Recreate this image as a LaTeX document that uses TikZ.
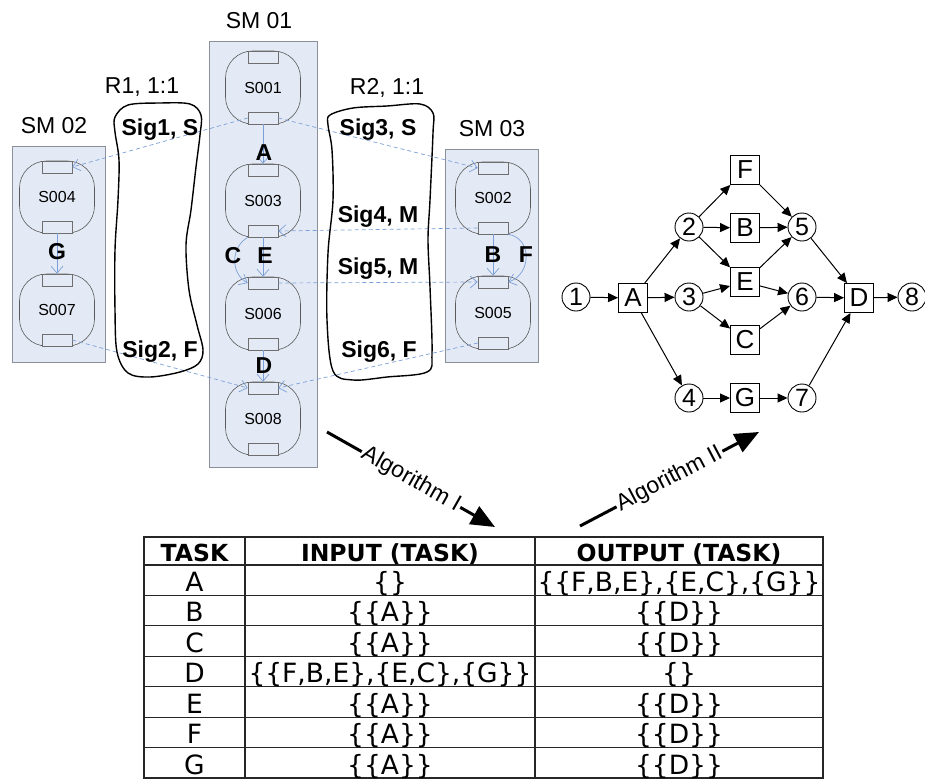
\documentclass[tikz,border=0pt]{standalone}
\usepackage{fontspec}
\setmainfont{Liberation Sans}
\newfontfamily\tablefont{DejaVu Sans}
\usetikzlibrary{arrows.meta}

\definecolor{smfill}{HTML}{E4EAF5}
\definecolor{smedge}{HTML}{8A8F99}
\definecolor{bodyedge}{HTML}{5A5A5A}
\definecolor{tabedge}{HTML}{6E6E6E}
\definecolor{flowblue}{HTML}{7B9FD8}

\newcommand\setfs[1]{\fontsize{#1}{#1}\selectfont}

% a service: rounded body with an input tab on top and an output tab below
\newcommand\svcnode[5]{%
  \node[sbody, minimum height=#4pt-#3pt+12pt] (#1) at (#2,{(#3+#4)/2}) {#5};
  \node[stab] (#1t) at (#2,#3) {};
  \node[stab] (#1b) at (#2,#4) {};
}

\begin{document}
\begin{tikzpicture}[x=1pt,y=-1pt,
  smbox/.style={draw=smedge, fill=smfill, line width=0.9pt, inner sep=0pt},
  sbody/.style={draw=bodyedge, line width=0.6pt, rounded corners=27pt,
    minimum width=75pt, inner sep=0pt, font=\setfs{16}},
  stab/.style={draw=tabedge, fill=smfill, line width=0.6pt,
    minimum width=30pt, minimum height=12pt, inner sep=0pt},
  flow/.style={draw=flowblue, line width=0.7pt,
    -{Straight Barb[length=7pt,width=12pt]}},
  sig/.style={flow, dash pattern=on 4pt off 3pt},
  title/.style={font=\setfs{23}, anchor=base, inner sep=0pt},
  sigl/.style={font=\bfseries\setfs{23}, anchor=base, inner sep=0pt},
  blob/.style={draw=black, line width=1.4pt},
  task/.style={draw, line width=0.9pt, minimum size=29pt, inner sep=0pt,
    font=\setfs{26}},
  state/.style={circle, draw, line width=0.9pt, minimum size=28pt,
    inner sep=0pt, font=\setfs{25}},
  garrow/.style={line width=1pt, -{Triangle[length=10pt,width=9pt]}},
  algo/.style={line width=3pt, -{Triangle[length=24pt,width=20pt]}},
  algol/.style={sloped, fill=white, inner sep=1.5pt, font=\setfs{23}},
  tline/.style={draw=black!85, line width=1.1pt},
  hdr/.style={font=\tablefont\bfseries\setfs{23.5}, anchor=base, inner sep=0pt},
  cell/.style={font=\tablefont\setfs{26.5}, anchor=base, inner sep=0pt},
]
\useasboundingbox (0,0) rectangle (925,779);

% ---------- service modules ----------
\node[smbox, minimum width=108pt, minimum height=426pt] (sm01) at (263,254) {};
\node[smbox, minimum width=93pt, minimum height=216pt] (sm02) at (58.5,254) {};
\node[smbox, minimum width=93pt, minimum height=213pt] (sm03) at (491.5,255.5) {};
\node[title] (sm01l) at (259,28) {SM 01};
\node[title] (sm02l) at (54,133) {SM 02};
\node[title] (sm03l) at (492,136) {SM 03};

\svcnode{s001}{263}{57}{118}{S001}
\svcnode{s003}{263}{170}{231}{S003}
\svcnode{s006}{263}{283}{344}{S006}
\svcnode{s008}{263}{388}{449}{S008}
\svcnode{s004}{57}{167}{227}{S004}
\svcnode{s007}{57}{280}{340}{S007}
\svcnode{s002}{493}{168}{228}{S002}
\svcnode{s005}{493}{282}{343}{S005}

% flows inside a module
\draw[flow] (s001b.south) -- (s003t.north);
\draw[flow] (s003b.south) -- (s006t.north);
\draw[flow] (s003b.south west) .. controls (230,248) and (231,274) .. (s006t.west);
\draw[flow] (s006b.south) -- (s008t.north);
\draw[flow] (s004b.south) -- (s007t.north);
\draw[flow] (s002b.south) -- (s005t.north);
\draw[flow] (s002b.south east) .. controls (532,238) and (532,274) .. (s005t.east);

\node[sigl] (la) at (264,160) {A};
\node[sigl] (lc) at (233,263) {C};
\node[sigl] (le) at (265,263) {E};
\node[sigl] (ld) at (264,373) {D};
\node[sigl] (lg) at (57,259) {G};
\node[sigl] (lb) at (493,262) {B};
\node[sigl] (lf) at (526,262) {F};

% signals between modules
\draw[sig] (s001b.west) -- (s004t.east);
\draw[sig] (s001b.east) -- (s002t.west);
\draw[sig] (s002b.west) -- (s003b.east);
\draw[sig] (s006t.east) -- (s005t.west);
\draw[sig] (s007b.east) -- (s008t.west);
\draw[sig] (s005b.west) -- (s008t.east);

% relation outlines
\draw[blob] plot[smooth cycle, tension=0.55] coordinates {
  (115,117) (128,105) (160,103) (190,104) (201,115) (200,135) (196,167)
  (191,210) (186,245) (189,290) (197,325) (203,350) (198,364) (180,372)
  (150,377) (128,373) (117,352) (115,310) (115,250) (118,200) (119,160)
  (115,132)};
\draw[blob] plot[smooth cycle, tension=0.55] coordinates {
  (330,115) (353,108) (387,106) (420,104) (433,113) (433,133) (430,200)
  (428,240) (430,287) (432,353) (427,372) (387,377) (353,380) (333,371)
  (327,320) (328,253) (333,200) (332,150) (328,125)};

\node[title] (r1l) at (142,93) {R1, 1:1};
\node[title] (r2l) at (387,94) {R2, 1:1};
\node[sigl] (sig1) at (160,135) {Sig1, S};
\node[sigl] (sig2) at (160,357) {Sig2, F};
\node[sigl] (sig3) at (378,135) {Sig3, S};
\node[sigl] (sig4) at (378,222) {Sig4, M};
\node[sigl] (sig5) at (378,274) {Sig5, M};
\node[sigl] (sig6) at (379,357) {Sig6, F};

% ---------- task graph ----------
\node[state] (n1) at (576,297) {1};
\node[task]  (tA) at (633,298) {A};
\node[state] (n2) at (689,227) {2};
\node[state] (n3) at (689,297) {3};
\node[state] (n4) at (689,398) {4};
\node[task]  (tF) at (745,170) {F};
\node[task]  (tB) at (745,228) {B};
\node[task]  (tE) at (745,282) {E};
\node[task]  (tC) at (745,340) {C};
\node[task]  (tG) at (745,398) {G};
\node[state] (n5) at (802,227) {5};
\node[state] (n6) at (802,297) {6};
\node[state] (n7) at (802,398) {7};
\node[task]  (tD) at (859,298) {D};
\node[state] (n8) at (912,297) {8};

\foreach \a/\b in {n1/tA, tA/n2, tA/n3, tA/n4, n2/tF, n2/tB, n2/tE, n3/tE,
  n3/tC, n4/tG, tF/n5, tB/n5, tE/n5, tE/n6, tC/n6, tG/n7, n5/tD, n6/tD,
  n7/tD, tD/n8}
  \draw[garrow] (\a) -- (\b);

% ---------- algorithm arrows ----------
\coordinate (alg1s) at (327,432);
\coordinate (alg1e) at (495,527);
\draw[algo] (alg1s) -- node[algol] (alg1l) {Algorithm I} (alg1e);
\coordinate (alg2s) at (580,526);
\coordinate (alg2e) at (759,432);
\draw[algo] (alg2s) -- node[algol] (alg2l) {Algorithm II} (alg2e);

% ---------- task table ----------
\draw[tline] (144,537) rectangle (823,778);
\draw[tline] (245,537) -- (245,778);
\draw[tline] (535,537) -- (535,778);
\draw[tline] (144,565) -- (823,565);
\foreach \k in {1,...,6}
  \draw[tline] (144,{565+\k*30.43}) -- (823,{565+\k*30.43});

\node[hdr] (h1) at (194.5,561) {TASK};
\node[hdr] (h2) at (390,561) {INPUT (TASK)};
\node[hdr] (h3) at (679,561) {OUTPUT (TASK)};

\node[cell] (a1) at (194.5,591.4) {A};
\node[cell] (a2) at (390,591.4) {\{\}};
\node[cell] (a3) at (679,591.4) {\{\{F,B,E\},\{E,C\},\{G\}\}};
\node[cell] (b1) at (194.5,621.9) {B};
\node[cell] (b2) at (390,621.9) {\{\{A\}\}};
\node[cell] (b3) at (679,621.9) {\{\{D\}\}};
\node[cell] (c1) at (194.5,652.3) {C};
\node[cell] (c2) at (390,652.3) {\{\{A\}\}};
\node[cell] (c3) at (679,652.3) {\{\{D\}\}};
\node[cell] (d1) at (194.5,682.7) {D};
\node[cell] (d2) at (390,682.7) {\{\{F,B,E\},\{E,C\},\{G\}\}};
\node[cell] (d3) at (679,682.7) {\{\}};
\node[cell] (e1) at (194.5,713.1) {E};
\node[cell] (e2) at (390,713.1) {\{\{A\}\}};
\node[cell] (e3) at (679,713.1) {\{\{D\}\}};
\node[cell] (f1) at (194.5,743.6) {F};
\node[cell] (f2) at (390,743.6) {\{\{A\}\}};
\node[cell] (f3) at (679,743.6) {\{\{D\}\}};
\node[cell] (g1) at (194.5,774) {G};
\node[cell] (g2) at (390,774) {\{\{A\}\}};
\node[cell] (g3) at (679,774) {\{\{D\}\}};
\end{tikzpicture}
\end{document}
